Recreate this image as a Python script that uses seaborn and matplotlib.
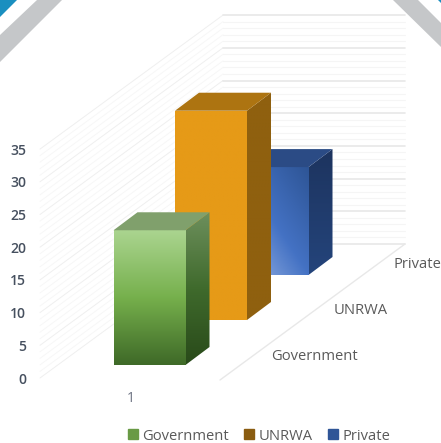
import numpy as np
import pandas as pd
import matplotlib
matplotlib.use("Agg")
import matplotlib.pyplot as plt
import seaborn as sns
from matplotlib.colors import LinearSegmentedColormap
from matplotlib.patches import Patch, Polygon
from matplotlib.transforms import Affine2D

# values
series = ["Government", "UNRWA", "Private"]
values = [20.6, 32.0, 16.5]
y_ticks = [0, 5, 10, 15, 20, 25, 30, 35]
category = "1"

W, H = 441, 443
PX_X = 61.5      # pixels per series step along x
PX_Y = 6.54      # pixels per value unit
X0 = 149.5       # pixel centre of first bar
Y0 = 378         # pixel of value 0 on the front plane
pix = Affine2D().scale(1, -1).translate(0, H)


def xc(px):
    return (px - X0) / PX_X


def yc(py):
    return (Y0 - py) / PX_Y


sns.set_theme(style="white")
plt.rcParams["font.family"] = ["Open Sans", "DejaVu Sans"]

fig = plt.figure(figsize=(W / 100, H / 100), dpi=100)
ax = fig.add_axes([0, 0, 1, 1])

df = pd.DataFrame({"series": series, "value": values})
front_cols = ["#70ad47", "#e69a17", "#4472c4"]
sns.barplot(data=df, x="series", y="value", hue="series", palette=front_cols,
            width=72 / PX_X, saturation=1, legend=False, ax=ax)
ax.set_xlim(xc(0), xc(W))
ax.set_ylim(yc(H), yc(0))

# walls: left wall, back wall, floor edge
for v in np.arange(0, 36):
    major = v % 5 == 0
    py = Y0 - v * PX_Y
    ax.plot([xc(40), xc(223)], [yc(py), yc(py - 134)], lw=0.7, zorder=1,
            color="#efefef" if major else "#f7f7f7")
    ax.plot([xc(223), xc(405)], [yc(py - 134), yc(py - 134)], zorder=1,
            color="#e8e8e8" if major else "#f5f5f5", lw=1.2 if major else 0.8)
ax.plot([xc(220), xc(405)], [yc(380), yc(244)], color="#e8e8e8", lw=1, zorder=1)


def shade(verts, colors, z, diagonal=False):
    poly = Polygon(verts, closed=True, fc="none", ec="none", transform=ax.transData)
    ax.add_patch(poly)
    xs, ys = zip(*verts)
    cm = LinearSegmentedColormap.from_list("c", colors)
    gx, gy = np.meshgrid(np.linspace(0, 1, 64), np.linspace(0, 1, 64))
    grad = 0.5 * (1 - gx) + 0.5 * gy if diagonal else gy
    im = ax.imshow(grad, cmap=cm, vmin=0, vmax=1, aspect="auto", zorder=z,
                   extent=[min(xs), max(xs), min(ys), max(ys)], origin="upper",
                   interpolation="bilinear")
    im.set_clip_path(poly)


# colours run from the top of a face to its bottom; blue front is lit from bottom left
face_grad = [["#aad48f", "#76b04c", "#3f6a28"], ["#e69a17", "#e69a17"], ["#2e5596", "#4472c4", "#9db7e6"]]
side_grad = [["#6d8f5c", "#3f6a2c", "#294a1a"], ["#8f600f", "#8f600f"], ["#1d345f", "#24447b"]]
top_cols = ["#80a06c", "#ad7411", "#2b4b85"]

DX = 24 / PX_X     # depth offset of a bar, x
DY = 18 / PX_Y     # depth offset of a bar, y
RISE0 = 13 / PX_Y  # first bar sits back from the front plane
RISE = 45 / PX_Y   # each series further back

for i, bar in enumerate(ax.patches[:3]):
    z = 10 - 2 * i
    l, w, h = bar.get_x(), bar.get_width(), bar.get_height()
    b = RISE0 + i * RISE
    r = l + w
    t = b + h
    bar.set_y(b)
    bar.set_zorder(z)
    shade([(l, b), (r, b), (r, t), (l, t)], face_grad[i], z + 0.1, diagonal=i == 2)
    shade([(r, b), (r + DX, b + DY), (r + DX, t + DY), (r, t)], side_grad[i], z + 0.1)
    ax.fill([l, r, r + DX, l + DX], [t, t, t + DY, t + DY], color=top_cols[i], lw=0, zorder=z + 0.1)

ax.set_xlim(xc(0), xc(W))
ax.set_ylim(yc(H), yc(0))
sns.despine(ax=ax, left=True, bottom=True)
ax.set_xticks([])
ax.set_yticks(y_ticks)
ax.set_xlabel("")
ax.set_ylabel("")
ax.tick_params(axis="y", length=0, pad=-19, labelsize=10, labelcolor="#46505f")
for lab in ax.get_yticklabels():
    lab.set_fontweight("semibold")

grey = "#5a5a5a"
ax.text(131, 399, category, transform=pix, ha="center", va="center", fontsize=10, color="#6a7080")
ax.text(314, 357, series[0], transform=pix, ha="center", va="center", fontsize=10.6, color=grey, fontweight="medium")
ax.text(361, 311, series[1], transform=pix, ha="center", va="center", fontsize=10.6, color=grey, fontweight="medium")
ax.text(417, 265, series[2], transform=pix, ha="center", va="center", fontsize=10.6, color=grey, fontweight="medium")

handles = [Patch(color=c, label=s) for c, s in zip(["#699a45", "#8a5c10", "#2f5597"], series)]
leg = ax.legend(handles=handles, loc="center", bbox_to_anchor=(259, 436), bbox_transform=pix, ncol=3,
                frameon=False, fontsize=10.6, handlelength=0.7, handleheight=0.65, handletextpad=0.3,
                columnspacing=1.0, labelcolor=grey, borderpad=0)
for t in leg.get_texts():
    t.set_fontweight("medium")

# corner decoration of the page behind the chart
for pts, col in [
    ([(37, 0), (62, 0), (0, 62), (0, 35)], "#c5c7c9"),
    ([(0, 0), (17, 0), (0, 17)], "#1a8fc0"),
    ([(393, 0), (418, 0), (441, 23), (441, 47)], "#c5c7c9"),
    ([(438, 0), (441, 0), (441, 3)], "#1a8fc0"),
]:
    fig.add_artist(Polygon(pts, closed=True, fc=col, ec="none", transform=pix))

fig.savefig("out.png", dpi=100)
